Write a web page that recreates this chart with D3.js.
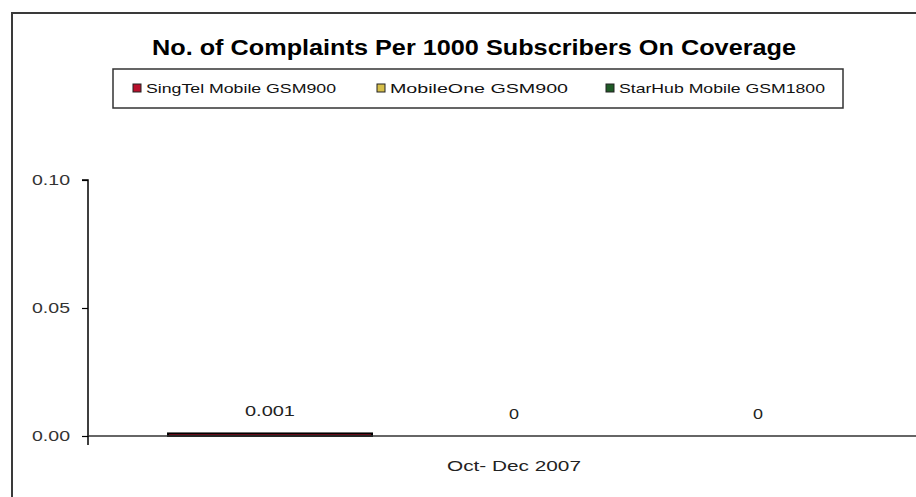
<!DOCTYPE html>
<html>
<head>
<meta charset="utf-8">
<script src="https://cdn.jsdelivr.net/npm/d3@7"></script>
<style>
  html, body { margin: 0; padding: 0; background: #ffffff; }
  svg { display: block; }
  text { font-family: "Liberation Sans", Arial, sans-serif; }
</style>
</head>
<body>
<svg id="chart" width="916" height="497"></svg>
<script>
// ---- data ----
const title = "No. of Complaints Per 1000 Subscribers On Coverage";
const categories = ["Oct- Dec 2007"];
const seriesNames = ["SingTel Mobile GSM900", "MobileOne GSM900", "StarHub Mobile GSM1800"];
const seriesColors = ["#b8102c", "#d6bf4a", "#1f5a26"];
const valuesSingTel = [0.001];
const valuesMobileOne = [0];
const valuesStarHub = [0];
const valueLabels = [["0.001"], ["0"], ["0"]];
const yTicks = [0, 0.05, 0.10];

const seriesValues = [valuesSingTel, valuesMobileOne, valuesStarHub];

// ---- layout ----
const svg = d3.select("#chart");
const plot = { left: 88, top: 180, right: 940, bottom: 436 };
const fontFam = '"Liberation Sans", Arial, sans-serif';

// outer chart frame (extends past the window, as in the reference)
svg.append("rect")
  .attr("x", 12).attr("y", 13)
  .attr("width", 1000).attr("height", 600)
  .attr("fill", "#ffffff")
  .attr("stroke", "#3a3a3a").attr("stroke-width", 2);

// title
svg.append("text")
  .attr("x", 474).attr("y", 55)
  .attr("text-anchor", "middle")
  .attr("font-size", 22).attr("font-weight", "bold")
  .attr("fill", "#000")
  .attr("textLength", 644).attr("lengthAdjust", "spacingAndGlyphs")
  .text(title);

// legend
const legend = svg.append("g");
legend.append("rect")
  .attr("x", 113).attr("y", 69)
  .attr("width", 730).attr("height", 39)
  .attr("fill", "#fff").attr("stroke", "#333").attr("stroke-width", 1.5);
const legendX = [133, 377, 606];
const legendW = [190, 178, 206];
seriesNames.forEach((name, i) => {
  const g = legend.append("g").attr("transform", `translate(${legendX[i]},88)`);
  g.append("rect").attr("x", 0).attr("y", -4).attr("width", 8).attr("height", 8)
    .attr("fill", seriesColors[i]).attr("stroke", "#222").attr("stroke-width", 1);
  g.append("text").attr("x", 13).attr("y", 5)
    .attr("font-size", 13).attr("fill", "#111")
    .attr("textLength", legendW[i]).attr("lengthAdjust", "spacingAndGlyphs")
    .text(name);
});

// scales
const x0 = d3.scaleBand().domain(categories).range([plot.left, plot.right]).padding(0);
const x1 = d3.scaleBand().domain(seriesNames).range([0, x0.bandwidth()])
  .paddingInner(0.164).paddingOuter(0.328);
const y = d3.scaleLinear().domain([0, 0.10]).range([plot.bottom, plot.top]);

// bars and value labels
const gBars = svg.append("g");
categories.forEach((c, ci) => {
  seriesNames.forEach((s, si) => {
    const v = seriesValues[si][ci];
    const h = plot.bottom - y(v);
    if (h > 0) {
      gBars.append("rect")
        .attr("x", x0(c) + x1(s)).attr("y", y(v))
        .attr("width", x1.bandwidth()).attr("height", h)
        .attr("fill", seriesColors[si])
        .attr("stroke", "#000").attr("stroke-width", 2);
    }
    const lbl = valueLabels[si][ci];
    svg.append("text")
      .attr("x", x0(c) + x1(s) + x1.bandwidth() / 2)
      .attr("y", y(v) - 17)
      .attr("text-anchor", "middle")
      .attr("font-size", 15).attr("fill", "#222")
      .attr("textLength", lbl.length === 1 ? 10 : 50).attr("lengthAdjust", "spacingAndGlyphs")
      .text(lbl);
  });
});

// y axis
const yAxis = d3.axisLeft(y).tickValues(yTicks).tickFormat(d3.format(".2f")).tickSize(6).tickPadding(12);
const gy = svg.append("g").attr("transform", `translate(${plot.left},0)`).call(yAxis);
gy.select(".domain").attr("d", `M-6,${plot.top}H0V${plot.bottom}`).attr("stroke", "#000").attr("stroke-width", 1.5);
gy.selectAll(".tick line").attr("stroke", "#000").attr("stroke-width", 1.2);
gy.selectAll(".tick text").attr("font-size", 15).attr("fill", "#333")
  .attr("textLength", 38).attr("lengthAdjust", "spacingAndGlyphs")
  .style("font-family", fontFam);

// x axis
const xAxis = d3.axisBottom(x0).tickSize(0).tickPadding(24);
const gx = svg.append("g").attr("transform", `translate(0,${plot.bottom})`).call(xAxis);
gx.select(".domain").attr("d", `M${plot.left},0H${plot.right}`).attr("stroke", "#333").attr("stroke-width", 1.5);
gx.selectAll(".tick text").attr("font-size", 15).attr("fill", "#222")
  .attr("textLength", 134).attr("lengthAdjust", "spacingAndGlyphs")
  .style("font-family", fontFam);
// category boundary tick marks
gx.selectAll(".bound").data([plot.left, plot.right]).enter().append("line")
  .attr("x1", d => d).attr("x2", d => d).attr("y1", 0).attr("y2", 9)
  .attr("stroke", "#000").attr("stroke-width", 1.5);
</script>
</body>
</html>
